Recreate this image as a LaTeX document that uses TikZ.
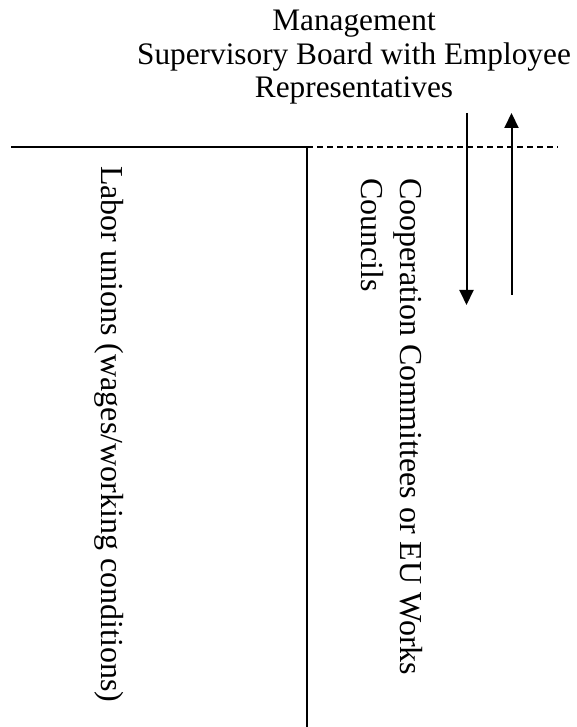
\documentclass[tikz,border=0pt]{standalone}
\usepackage{fontspec}
\setmainfont{Liberation Serif}
\usetikzlibrary{arrows.meta,positioning}
\definecolor{Ink}{HTML}{000000}

\begin{document}
\begin{tikzpicture}[x=1pt,y=1pt,headtext/.style={align=center,inner sep=0pt,font=\fontsize{31.3}{33.5}\selectfont},sidetext/.style={rotate=-90,align=left,inner sep=0pt,font=\fontsize{32}{39}\selectfont},boundary/.style={draw=Ink,line width=2pt},divider/.style={draw=Ink,line width=1.3pt,dash pattern=on 6pt off 4pt},flow/.style={draw=Ink,line width=2pt,-{Triangle[length=15pt,width=14pt]}}]
\useasboundingbox (0,0) rectangle (577,727);
\node[headtext,anchor=north] (mgmt) at (354,717) {Management\\Supervisory Board with Employee\\Representatives};
\coordinate (left) at (11,580);
\coordinate (corner) at (307,580);
\coordinate (bottom) at (307,0);
\coordinate (right) at (558,580);
\draw[boundary] (left) -- (corner) -- (bottom);
\draw[divider] (corner) -- (right);
\coordinate (downtop) at (466.5,614);
\coordinate (downend) at (466.5,422);
\coordinate (uptail) at (511.5,432);
\coordinate (uptip) at (511.5,614);
\draw[flow] (downtop) -- (downend);
\draw[flow] (uptail) -- (uptip);
\node[sidetext,anchor=base west] (unions) at (101.5,561) {Labor unions (wages/working conditions)};
\node[sidetext,anchor=north west] (councils) at (423,549) {Cooperation Committees or EU Works\\Councils};
\end{tikzpicture}
\end{document}
